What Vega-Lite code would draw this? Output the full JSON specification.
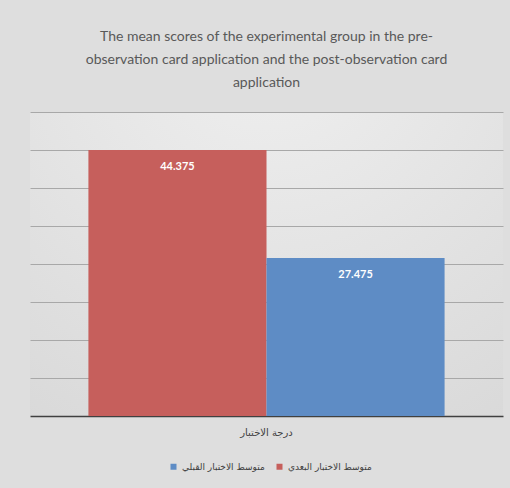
{
  "$schema": "https://vega.github.io/schema/vega-lite/v6.json",
  "width": 473,
  "height": 304,
  "autosize": "none",
  "padding": {"left": 30, "top": 112, "right": 7, "bottom": 72},
  "background": "#DEDEDE",
  "title": {
    "text": ["The mean scores of the experimental group in the pre-", "observation card application and the post-observation card", "application"],
    "anchor": "middle",
    "frame": "group",
    "font": "Lato, sans-serif",
    "fontSize": 14,
    "fontWeight": "normal",
    "color": "#595959",
    "lineHeight": 23,
    "offset": 22
  },
  "data": {
    "values": [
      {"category": "درجة الاختبار", "series": "متوسط الاختبار البعدي", "score": 44.375},
      {"category": "درجة الاختبار", "series": "متوسط الاختبار القبلي", "score": 27.475}
    ]
  },
  "encoding": {
    "x": {
      "field": "category",
      "type": "nominal",
      "scale": {"paddingInner": 0, "paddingOuter": 0.164},
      "axis": {"title": null, "labelAngle": 0, "ticks": false, "domainColor": "#404040", "domainWidth": 1.5, "labelPadding": 11, "labelFontSize": 10, "labelColor": "#404040", "labelFont": "DejaVu Sans"}
    },
    "xOffset": {
      "field": "series",
      "sort": ["متوسط الاختبار البعدي", "متوسط الاختبار القبلي"],
      "scale": {"paddingInner": 0, "paddingOuter": 0}
    },
    "y": {
      "field": "score",
      "type": "quantitative",
      "scale": {"domain": [2.75, 50.32], "zero": false, "nice": false, "clamp": true},
      "axis": {"title": null, "labels": false, "ticks": false, "domain": false, "gridColor": "#A8A8A8", "gridWidth": 1, "values": [8.696, 14.642, 20.588, 26.534, 32.48, 38.426, 44.372, 50.32]}
    }
  },
  "layer": [
    {
      "mark": {"type": "bar"},
      "encoding": {
        "color": {
          "field": "series",
          "type": "nominal",
          "scale": {"domain": ["متوسط الاختبار القبلي", "متوسط الاختبار البعدي"], "range": ["#5E8CC5", "#C65F5C"]},
          "legend": {"orient": "none", "legendX": 139, "legendY": 350, "direction": "horizontal", "title": null, "symbolType": "square", "symbolSize": 36, "labelFontSize": 9, "labelColor": "#404040", "labelFont": "DejaVu Sans", "labelOffset": 4, "columnPadding": 10}
        }
      }
    },
    {
      "mark": {"type": "text", "baseline": "middle", "dy": 17, "color": "white", "fontSize": 11, "fontWeight": "bold", "font": "Lato, sans-serif"},
      "encoding": {"text": {"field": "score", "type": "quantitative", "format": ".3f"}}
    }
  ],
  "config": {
    "view": {
      "stroke": null,
      "fill": {"gradient": "radial", "x1": 0.5, "y1": 0.0, "r1": 0, "x2": 0.5, "y2": 0.0, "r2": 1.1, "stops": [{"offset": 0, "color": "#F0F0F0"}, {"offset": 1, "color": "#D6D6D6"}]}
    }
  }
}
